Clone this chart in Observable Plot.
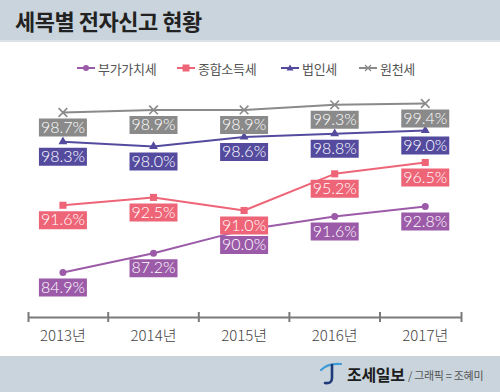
<!DOCTYPE html>
<html><head><meta charset="utf-8">
<script src="https://cdn.jsdelivr.net/npm/d3@7"></script>
<script src="https://cdn.jsdelivr.net/npm/@observablehq/plot@0.6"></script>
<style>
html,body{margin:0;padding:0;background:#fff;}
#page{position:relative;width:500px;height:392px;overflow:hidden;background:#fff;font-family:"Noto Sans CJK KR","Noto Sans",sans-serif;}
#header{position:absolute;left:0;top:0;width:500px;height:40px;background:#c9d4dc;border-bottom:2px solid #dbe2e8;}
#title{position:absolute;left:15px;top:5px;font-size:22px;font-weight:700;color:#222;letter-spacing:-0.5px;line-height:30px;}
#legend{position:absolute;left:0;top:58px;width:500px;height:20px;}
.item{position:absolute;top:0;height:20px;display:flex;align-items:center;font-size:13px;color:#555;letter-spacing:-0.3px;}
.item svg{margin-right:3px;}
#footer{position:absolute;left:0;top:356px;width:500px;height:36px;background:#c9d4dc;}
#brand{position:absolute;left:347px;top:7px;font-size:16px;font-weight:700;color:#1d1d1d;letter-spacing:-0.3px;line-height:22px;}
#credit{position:absolute;left:408px;top:10px;font-size:11px;color:#555;line-height:18px;letter-spacing:-0.3px;}
#logo{position:absolute;left:320px;top:5px;}
.layer{position:absolute;left:0;top:0;}
</style></head>
<body>
<div id="page">
  <div id="header"><div id="title">세목별 전자신고 현황</div></div>
  <div id="legend"></div>
  <div id="footer">
    <svg id="logo" width="22" height="26" viewBox="0 0 22 26">
      <path d="M1 9 Q8 2 21 3" fill="none" stroke="#3f9ad6" stroke-width="2.2" stroke-linecap="round"/>
      <path d="M12 4 L12 17 Q12 23 5 22" fill="none" stroke="#1f3a78" stroke-width="2.6" stroke-linecap="round"/>
    </svg>
    <div id="brand">조세일보</div>
    <div id="credit">/ 그래픽 = 조혜미</div>
  </div>
</div>
<script>
// ---- data ----
const years = [2013, 2014, 2015, 2016, 2017];
const yearLabels = ["2013년", "2014년", "2015년", "2016년", "2017년"];
const seriesNames = ["부가가치세", "종합소득세", "법인세", "원천세"];
const vatValues = [84.9, 87.2, 90.0, 91.6, 92.8];
const incomeValues = [91.6, 92.5, 91.0, 95.2, 96.5];
const corporateValues = [98.3, 98.0, 98.6, 98.8, 99.0];
const withholdingValues = [98.7, 98.9, 98.9, 99.3, 99.4];

// ---- styles (not data) ----
const seriesStyles = [
  {values: vatValues, color: "#9c5ba8", symbol: "circle", r: 3.5, yRange: [272, 206]},
  {values: incomeValues, color: "#ee6577", symbol: "square", r: 4, yRange: [210, 162]},
  {values: corporateValues, color: "#544b9f", symbol: "triangle", r: 3.3, yRange: [146, 130]},
  {values: withholdingValues, color: "#8a8a8a", symbol: "times", r: 4, yRange: [112, 103]}
];

const W = 500, H = 392;
const xOpts = {domain: [2012.62, 2017.4]};
const margins = {marginLeft: 28, marginRight: 39, marginTop: 0, marginBottom: 0};
const labelFont = "'Lato Light', Lato, 'Noto Sans', sans-serif";
const labelBox = {draw(ctx) {ctx.moveTo(-24, -9); ctx.lineTo(24, -9); ctx.lineTo(24, 9); ctx.lineTo(-24, 9); ctx.closePath();}};

const page = document.getElementById("page");

// ---- x axis layer ----
const bounds = [xOpts.domain[0], ...years.slice(1).map((y, i) => (y + years[i]) / 2), xOpts.domain[1]];
const axisPlot = Plot.plot({
  width: W, height: 50, ...margins, marginTop: 12, marginBottom: 28,
  x: {...xOpts, axis: null},
  y: {domain: [-1, 1], axis: null},
  style: {background: "transparent", overflow: "visible"},
  marks: [
    Plot.ruleY([0], {stroke: "#7a7a7a", strokeWidth: 2}),
    Plot.ruleX(bounds, {x: d => d, y1: -1, y2: 1, stroke: "#7a7a7a", strokeWidth: 2}),
    Plot.text(years, {x: d => d, y: -1, text: (d, i) => yearLabels[i], dy: 14, fontSize: 15, fill: "#444",
      fontFamily: "'Noto Sans CJK KR', sans-serif", fontWeight: 300})
  ]
});
axisPlot.classList.add("layer");
axisPlot.style.top = "300px";
page.appendChild(axisPlot);

// ---- series layers ----
seriesStyles.forEach((s, k) => {
  const data = years.map((y, i) => ({year: y, value: s.values[i]}));
  const markerOpts = s.symbol === "times"
    ? {x: "year", y: "value", symbol: "times", r: s.r, stroke: s.color, strokeWidth: 1.6}
    : {x: "year", y: "value", symbol: s.symbol, r: s.r, fill: s.color};
  const p = Plot.plot({
    width: W, height: H, ...margins,
    x: {...xOpts, axis: null},
    y: {domain: d3.extent(s.values), range: s.yRange, axis: null},
    style: {background: "transparent", overflow: "visible"},
    marks: [
      Plot.line(data, {x: "year", y: "value", stroke: s.color, strokeWidth: 2}),
      Plot.dot(data, markerOpts),
      Plot.dot(data, {x: "year", y: "value", symbol: labelBox, fill: s.color, dy: 15}),
      Plot.text(data, {x: "year", y: "value", text: d => d.value.toFixed(1) + "%", fill: "white",
        fontSize: 16, fontFamily: labelFont, fontWeight: 300, dy: 15})
    ]
  });
  p.classList.add("layer");
  page.appendChild(p);
});

// ---- legend ----
const legend = document.getElementById("legend");
const legendLeft = [77, 177, 281, 359];
seriesStyles.forEach((s, k) => {
  const item = document.createElement("div");
  item.className = "item";
  item.style.left = legendLeft[k] + "px";
  let marker = "";
  if (s.symbol === "circle") marker = `<circle cx="9" cy="5" r="3" fill="${s.color}"/>`;
  if (s.symbol === "square") marker = `<rect x="5.5" y="1.5" width="7" height="7" fill="${s.color}"/>`;
  if (s.symbol === "triangle") marker = `<path d="M9 1.5 L12.5 7.5 L5.5 7.5Z" fill="${s.color}"/>`;
  if (s.symbol === "times") marker = `<path d="M6 2 L12 8 M12 2 L6 8" stroke="${s.color}" stroke-width="1.3"/>`;
  item.innerHTML = `<svg width="18" height="10"><line x1="0" y1="5" x2="18" y2="5" stroke="${s.color}" stroke-width="2"/>${marker}</svg><span>${seriesNames[k]}</span>`;
  legend.appendChild(item);
});
</script>
</body></html>
